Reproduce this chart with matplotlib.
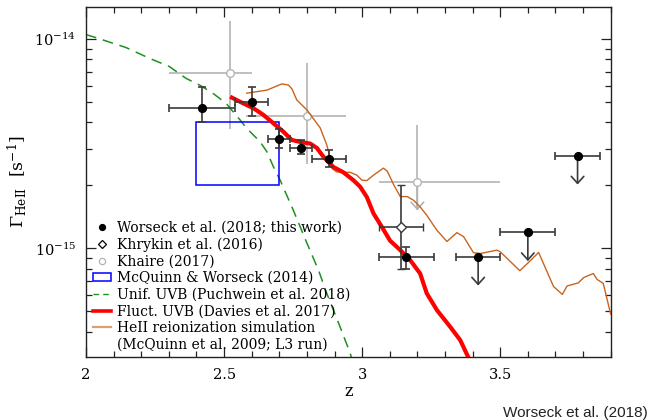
import numpy as np
import matplotlib
matplotlib.use("Agg")
import matplotlib.pyplot as plt
from matplotlib.lines import Line2D
from matplotlib.patches import Rectangle, Patch
from matplotlib.ticker import FixedLocator, NullFormatter, MultipleLocator, LogFormatterMathtext

plt.rcParams["font.family"] = ["DejaVu Serif"]
plt.rcParams["mathtext.fontset"] = "dejavuserif"

# ---------------- data (Gamma in units of 1e-15 s^-1) ----------------
# Worseck et al. (2018): measurements
w_z = np.array([2.42, 2.60, 2.70, 2.78, 2.88, 3.16])
w_zlo = np.array([2.30, 2.54, 2.66, 2.74, 2.82, 3.06])
w_zhi = np.array([2.54, 2.66, 2.74, 2.82, 2.94, 3.26])
w_g = np.array([4.67, 5.03, 3.33, 3.03, 2.68, 0.91])
w_glo = np.array([4.04, 4.30, 3.01, 2.82, 2.45, 0.796])
w_ghi = np.array([5.89, 5.89, 3.71, 3.30, 2.95, 1.02])

# Worseck et al. (2018): upper limits
ul_z = np.array([3.42, 3.60, 3.78])
ul_zlo = np.array([3.34, 3.50, 3.70])
ul_zhi = np.array([3.50, 3.70, 3.86])
ul_g = np.array([0.91, 1.20, 2.76])
ul_tip = np.array([0.665, 0.87, 2.02])

# Khrykin et al. (2016)
k16_z = np.array([3.14])
k16_zlo = np.array([3.06])
k16_zhi = np.array([3.22])
k16_g = np.array([1.26])
k16_glo = np.array([0.796])
k16_ghi = np.array([2.00])

# Khaire (2017)
k17_z = np.array([2.52, 2.80, 3.20])
k17_zlo = np.array([2.30, 2.58, 3.06])
k17_zhi = np.array([2.60, 2.94, 3.50])
k17_g = np.array([6.92, 4.28, 2.07])
k17_glo = np.array([3.71, 2.52, 1.52])
k17_ghi = np.array([12.2, 7.68, 3.89])

# McQuinn & Worseck (2014) box
mw_z = (2.4, 2.7)
mw_g = (2.0, 4.0)

# Uniform UVB (Puchwein et al. 2018)
uni_z = np.array([2.000, 2.030, 2.145, 2.229, 2.302, 2.362, 2.411, 2.459, 2.507,
                  2.558, 2.582, 2.630, 2.655, 2.679, 2.703, 2.751, 2.800, 2.842,
                  2.872, 2.920, 2.957, 2.965])
uni_g = np.array([10.52, 10.23, 9.12, 8.11, 7.40, 6.50, 6.04, 5.52, 4.94,
                  4.11, 3.75, 3.24, 2.90, 2.45, 2.12, 1.52, 1.06, 0.787,
                  0.610, 0.422, 0.315, 0.288])

# Fluctuating UVB (Davies et al. 2017)
fl_z = np.array([2.522, 2.558, 2.606, 2.642, 2.679, 2.715, 2.745, 2.775, 2.812,
                 2.836, 2.860, 2.896, 2.932, 2.968, 2.993, 3.017, 3.041, 3.071,
                 3.101, 3.138, 3.174, 3.210, 3.234, 3.271, 3.319, 3.355, 3.388])
fl_g = np.array([5.31, 5.02, 4.68, 4.35, 3.96, 3.61, 3.30, 3.23, 3.17,
                 3.02, 2.74, 2.45, 2.31, 2.12, 1.97, 1.76, 1.47, 1.27,
                 1.09, 0.982, 0.879, 0.759, 0.610, 0.507, 0.422, 0.365, 0.295])

# HeII reionization simulation (McQuinn et al. 2009; L3 run)
sim_z = np.array([2.582, 2.655, 2.709, 2.733, 2.746, 2.763, 2.800, 2.848, 2.872,
                  2.884, 2.891, 2.908, 2.957, 2.981, 2.999, 3.017, 3.041, 3.077,
                  3.091, 3.113, 3.138, 3.163, 3.186, 3.210, 3.234, 3.271, 3.307,
                  3.343, 3.367, 3.403, 3.428, 3.488, 3.500, 3.571, 3.603, 3.639,
                  3.693, 3.725, 3.742, 3.783, 3.802, 3.837, 3.851, 3.873, 3.900])
sim_g = np.array([5.52, 5.71, 6.11, 6.04, 5.78, 5.13, 4.59, 3.77, 3.12,
                  2.70, 2.41, 2.32, 2.31, 2.24, 2.12, 2.11, 2.24, 2.42,
                  2.34, 2.03, 1.77, 1.77, 1.70, 1.58, 1.44, 1.22, 1.08,
                  1.19, 1.14, 0.955, 0.946, 0.982, 0.964, 0.783, 0.859, 0.957,
                  0.658, 0.603, 0.662, 0.685, 0.726, 0.759, 0.711, 0.681, 0.485])

xticks = [2.0, 2.5, 3.0, 3.5]
xtick_labels = ["2", "2.5", "3", "3.5"]
yticks_major = [1e-15, 1e-14]
yticks_minor = [4e-16, 5e-16, 6e-16, 7e-16, 8e-16, 9e-16,
                2e-15, 3e-15, 4e-15, 5e-15, 6e-15, 7e-15, 8e-15, 9e-15]

legend_labels = ["Worseck et al. (2018; this work)",
                 "Khrykin et al. (2016)",
                 "Khaire (2017)",
                 "McQuinn & Worseck (2014)",
                 "Unif. UVB (Puchwein et al. 2018)",
                 "Fluct. UVB (Davies et al. 2017)",
                 "HeII reionization simulation",
                 "(McQuinn et al. 2009; L3 run)"]

U = 1e-15
C_GREEN = "#1f8f1f"
C_RED = "#ff0000"
C_ORANGE = "#c9641e"
C_BLUE = "#0000ff"
C_GRAY = "#b4b4b4"
C_DARK = "#3a3a3a"

fig = plt.figure(figsize=(6.52, 4.20), dpi=100)
ax = fig.add_axes([86 / 652, 1 - 356.7 / 420, (610.7 - 86) / 652, (356.7 - 7.3) / 420])
ax.set_yscale("log")
ax.set_xlim(2.0, 3.9)
ax.set_ylim(3.04e-16, 1.42e-14)

# model curves
ax.plot(uni_z, uni_g * U, color=C_GREEN, lw=1.1, dashes=(7, 4.5), zorder=2)
ax.plot(sim_z, sim_g * U, color=C_ORANGE, lw=1.0, zorder=3)
ax.plot(fl_z, fl_g * U, color=C_RED, lw=3.0, zorder=4, solid_capstyle="butt")

# McQuinn & Worseck box
ax.add_patch(Rectangle((mw_z[0], mw_g[0] * U), mw_z[1] - mw_z[0],
                       (mw_g[1] - mw_g[0]) * U, fill=False, edgecolor=C_BLUE,
                       lw=1.1, zorder=2.5))

# Khaire (2017)
ax.errorbar(k17_z, k17_g * U,
            xerr=[k17_z - k17_zlo, k17_zhi - k17_z],
            yerr=[(k17_g - k17_glo) * U, (k17_ghi - k17_g) * U],
            fmt="o", ms=5.5, mfc="white", mec=C_GRAY, mew=1.0,
            ecolor=C_GRAY, elinewidth=1.2, capsize=0, zorder=1.5)
ax.annotate("", xy=(k17_z[2], k17_glo[2] * U), xytext=(k17_z[2], k17_g[2] * U),
            arrowprops=dict(arrowstyle="->,head_length=0.5,head_width=0.45",
                            color=C_GRAY, lw=1.2, shrinkA=0, shrinkB=0),
            zorder=1.5)

# Khrykin et al. (2016)
ax.errorbar(k16_z, k16_g * U,
            xerr=[k16_z - k16_zlo, k16_zhi - k16_z],
            yerr=[(k16_g - k16_glo) * U, (k16_ghi - k16_g) * U],
            fmt="D", ms=4.8, mfc="white", mec=C_DARK, mew=1.0,
            ecolor=C_DARK, elinewidth=1.2, capsize=3, capthick=1.2, zorder=5)

# Worseck et al. (2018) measurements
ax.errorbar(w_z, w_g * U,
            xerr=[w_z - w_zlo, w_zhi - w_z],
            yerr=[(w_g - w_glo) * U, (w_ghi - w_g) * U],
            fmt="o", ms=5.6, color="black", mec="black",
            ecolor=C_DARK, elinewidth=1.2, capsize=3, capthick=1.2, zorder=6)

# Worseck et al. (2018) upper limits
ax.errorbar(ul_z, ul_g * U, xerr=[ul_z - ul_zlo, ul_zhi - ul_z],
            fmt="o", ms=5.6, color="black", mec="black",
            ecolor=C_DARK, elinewidth=1.2, capsize=3, capthick=1.2, zorder=6)
for z, g, t in zip(ul_z, ul_g, ul_tip):
    ax.annotate("", xy=(z, t * U), xytext=(z, g * U),
                arrowprops=dict(arrowstyle="->,head_length=0.5,head_width=0.45",
                                color=C_DARK, lw=1.2, shrinkA=0, shrinkB=0),
                zorder=5.5)

# axes styling
ax.set_xticks(xticks)
ax.set_xticklabels(xtick_labels)
ax.xaxis.set_minor_locator(MultipleLocator(0.1))
ax.yaxis.set_major_locator(FixedLocator(yticks_major))
ax.yaxis.set_major_formatter(LogFormatterMathtext())
ax.yaxis.set_minor_locator(FixedLocator(yticks_minor))
ax.yaxis.set_minor_formatter(NullFormatter())
ax.tick_params(which="both", direction="in", top=True, right=True,
               color="#222222", labelsize=10.5)
ax.tick_params(which="major", length=7.5, width=0.9)
ax.tick_params(which="minor", length=4.3, width=0.9)
ax.tick_params(axis="x", pad=8)
ax.tick_params(axis="y", pad=7)
for s in ax.spines.values():
    s.set_linewidth(1.0)
    s.set_color("#222222")

ax.set_xlabel("z", fontsize=11.5, labelpad=1)
ax.set_ylabel(r"$\Gamma_{\rm HeII}$  [s$^{-1}$]", fontsize=12.5)
ax.yaxis.set_label_coords(-0.108, 0.5)

# legend
handles = [
    Line2D([], [], ls="none", marker="o", ms=4.2, color="black"),
    Line2D([], [], ls="none", marker="D", ms=4.0, mfc="white", mec="black", mew=0.9),
    Line2D([], [], ls="none", marker="o", ms=4.5, mfc="white", mec=C_GRAY, mew=0.9),
    Patch(facecolor="none", edgecolor=C_BLUE, lw=1.1),
    Line2D([], [], color=C_GREEN, lw=1.0, dashes=(4, 3)),
    Line2D([], [], color=C_RED, lw=2.6),
    Line2D([], [], color="#d9a06e", lw=1.6),
    Line2D([], [], ls="none"),
]
leg = ax.legend(handles, legend_labels, loc="upper left",
                bbox_to_anchor=(0.014, 0.389), frameon=False,
                fontsize=10, handlelength=1.25, handleheight=0.55,
                handletextpad=0.45, labelspacing=0.19, borderpad=0,
                borderaxespad=0)
leg.set_zorder(3)

fig.text(648 / 652, 1 - 416.5 / 420, "Worseck et al. (2018)",
         family=["Liberation Sans", "DejaVu Sans"], fontsize=11,
         ha="right", va="baseline", color="#222222")

fig.savefig("out.png", dpi=100)
